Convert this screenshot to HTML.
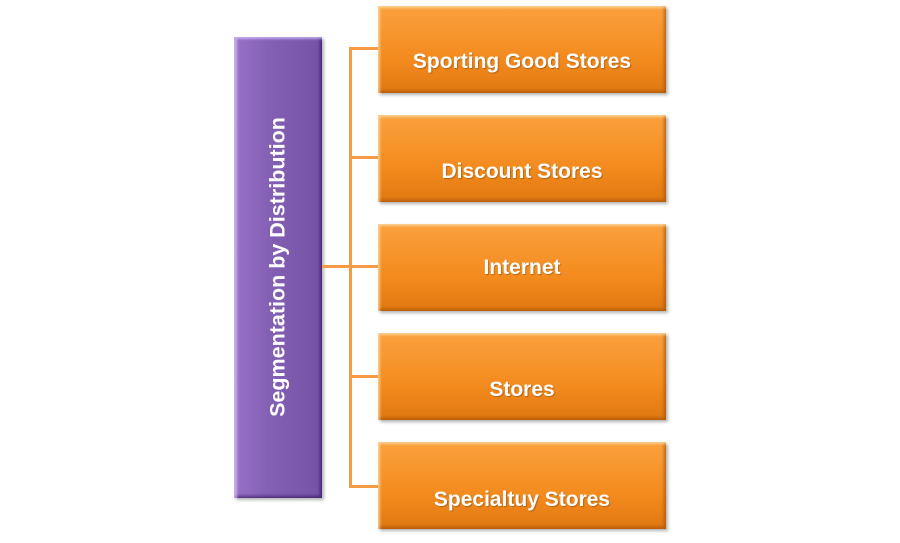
<!DOCTYPE html>
<html><head><style>
body{margin:0;width:900px;height:543px;background:#fff;position:relative;overflow:hidden;font-family:"Liberation Sans",sans-serif}
.b{position:absolute;left:378px;width:288px;height:87px;background:linear-gradient(#fba13e,#f38b1e 60%,#e07812);box-shadow:inset 2px 2px 2px rgba(255,230,180,.7),inset -2px -2px 3px rgba(150,70,0,.6),2px 2px 3px rgba(0,0,0,.3);color:#fff;font-weight:bold;font-size:21px;text-align:center;box-sizing:border-box;text-shadow:1px 1px 1px rgba(0,0,0,.25)}
.l{position:absolute;background:#f59a45}
#p{position:absolute;left:234px;top:37px;width:88px;height:461px;background:linear-gradient(90deg,#9a70c8,#8460b4 40%,#7652a6);box-shadow:inset 3px 2px 2px rgba(220,200,255,.7),inset -2px -2px 3px rgba(40,10,80,.6),2px 2px 3px rgba(0,0,0,.3)}
#pt{position:absolute;left:278px;top:267px;transform:translate(-50%,-50%) rotate(-90deg);white-space:nowrap;color:#fff;font-weight:bold;font-size:21.5px}
</style></head><body>
<div id="p"></div><div id="pt">Segmentation by Distribution</div>
<div class="l" style="left:322px;top:265px;width:29px;height:3px"></div>
<div class="l" style="left:349px;top:47px;width:3px;height:441px"></div>
<div class="l" style="left:349px;top:47px;width:30px;height:3px"></div>
<div class="l" style="left:349px;top:156px;width:30px;height:3px"></div>
<div class="l" style="left:349px;top:265px;width:30px;height:3px"></div>
<div class="l" style="left:349px;top:375px;width:30px;height:3px"></div>
<div class="l" style="left:349px;top:485px;width:30px;height:3px"></div>
<div class="b" style="top:6px;padding-top:56px;line-height:0">Sporting Good Stores</div>
<div class="b" style="top:115px;padding-top:57px;line-height:0">Discount Stores</div>
<div class="b" style="top:224px;padding-top:44px;line-height:0">Internet</div>
<div class="b" style="top:333px;padding-top:57px;line-height:0">Stores</div>
<div class="b" style="top:442px;padding-top:58px;line-height:0">Specialtuy Stores</div>
</body></html>
